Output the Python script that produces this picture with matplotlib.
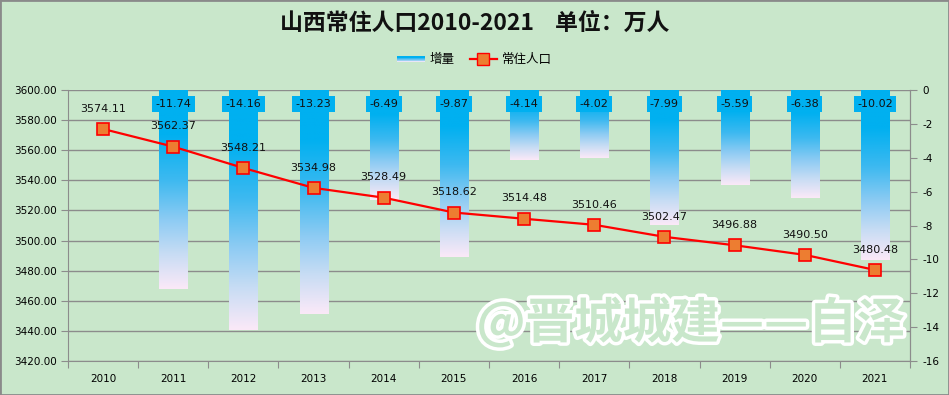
import numpy as np
import matplotlib
matplotlib.use("Agg")
import matplotlib.pyplot as plt
import matplotlib.patheffects as pe
from matplotlib.colors import LinearSegmentedColormap
from matplotlib.legend_handler import HandlerBase
from matplotlib.patches import Rectangle, Patch
from matplotlib.lines import Line2D

plt.rcParams['font.family'] = ['DejaVu Sans', 'Noto Sans CJK SC']

# data
years = ['2010', '2011', '2012', '2013', '2014', '2015',
         '2016', '2017', '2018', '2019', '2020', '2021']
population = [3574.11, 3562.37, 3548.21, 3534.98, 3528.49, 3518.62,
              3514.48, 3510.46, 3502.47, 3496.88, 3490.50, 3480.48]
incr_years = years[1:]
increment = [-11.74, -14.16, -13.23, -6.49, -9.87, -4.14,
             -4.02, -7.99, -5.59, -6.38, -10.02]
left_ticks = np.arange(3420, 3601, 20)
right_ticks = np.arange(-16, 1, 2)

bg = '#c9e7cb'
grid_c = '#8c8c8c'
bar_cmap = LinearSegmentedColormap.from_list(
    'bar', [(0.0, '#00b0f0'), (0.22, '#00b0f0'), (0.45, '#3db9f0'),
            (0.65, '#8ccbf3'), (0.82, '#c6dcf4'), (1.0, '#fbe9f8')])

fig = plt.figure(figsize=(9.49, 3.95), dpi=100)
fig.patch.set_facecolor(bg)
fig.patches.append(Rectangle((0, 0), 1, 1, transform=fig.transFigure,
                             fill=False, edgecolor='#8a8a8a', lw=2))

ax = fig.add_axes([68 / 949, 1 - 361 / 395, (910 - 68) / 949, (361 - 90) / 395])
ax.set_facecolor(bg)
axb = ax.twinx()
axl = ax.twinx()
ax.set_zorder(0)
axb.set_zorder(1)
axl.set_zorder(2)

x = np.arange(len(years))
xb = np.arange(1, len(years))

# left axis: grid + ticks
ax.set_xlim(-0.5, len(years) - 0.5)
ax.set_ylim(3420, 3600)
ax.set_yticks(left_ticks)
ax.set_yticklabels([f'{t:.2f}' for t in left_ticks])
ax.yaxis.grid(True, color=grid_c, lw=1)
ax.set_axisbelow(True)
ax.set_xticks(np.arange(-0.5, len(years), 1))
ax.set_xticklabels([])
ax.set_xticks(x, minor=True)
ax.set_xticklabels(years, minor=True)
ax.tick_params(axis='x', which='major', length=5, color=grid_c)
ax.tick_params(axis='x', which='minor', length=0, pad=9, labelsize=7.5)
ax.tick_params(axis='y', length=5, color=grid_c, labelsize=7.5, pad=3)
for s in ['left', 'bottom', 'right']:
    ax.spines[s].set_color(grid_c)
ax.spines['top'].set_visible(False)

# bars with vertical gradient
w = 0.4
grad = np.linspace(0, 1, 256).reshape(-1, 1)
for xi, v in zip(xb, increment):
    axb.imshow(grad, extent=[xi - w / 2, xi + w / 2, v, 0], aspect='auto',
               cmap=bar_cmap, origin='upper', zorder=2)
    axb.text(xi, -0.83, f'{v:.2f}', ha='center', va='center', fontsize=8,
             color='#111111', zorder=3,
             bbox=dict(boxstyle='square,pad=0.3', fc='#00b0f0', ec='none'))
axb.set_xlim(-0.5, len(years) - 0.5)
axb.set_ylim(-16, 0)
axb.set_yticks(right_ticks)
axb.set_yticklabels([str(t) for t in right_ticks])
axb.tick_params(axis='y', length=5, color=grid_c, labelsize=7.5, pad=4)
for s in ['left', 'bottom', 'top']:
    axb.spines[s].set_visible(False)
axb.spines['right'].set_color(grid_c)

# population line
axl.plot(x, population, color='#ff0000', lw=1.6, marker='s', markersize=8,
         markerfacecolor='#ed7d31', markeredgecolor='#ff0000', markeredgewidth=1.2)
for xi, p in zip(x, population):
    axl.annotate(f'{p:.2f}', (xi, p), xytext=(0, 11), textcoords='offset points',
                 ha='center', va='bottom', fontsize=8, color='#111111')
axl.set_xlim(-0.5, len(years) - 0.5)
axl.set_ylim(3420, 3600)
axl.yaxis.set_visible(False)
for s in axl.spines.values():
    s.set_visible(False)


# legend with gradient patch
class GradHandler(HandlerBase):
    def create_artists(self, legend, orig_handle, xdescent, ydescent,
                       width, height, fontsize, trans):
        n = 8
        arts = []
        for k in range(n):
            c = bar_cmap(1 - (k + 0.5) / n)
            r = Rectangle((-xdescent, -ydescent + height * 0.15 + height * 0.7 * k / n),
                          width, height * 0.7 / n + 0.2, fc=c, ec='none',
                          transform=trans)
            arts.append(r)
        return arts


h_bar = Patch(label='增量')
h_line = Line2D([], [], color='#ff0000', lw=1.6, marker='s', markersize=8,
                markerfacecolor='#ed7d31', markeredgecolor='#ff0000',
                label='常住人口')
fig.legend([h_bar, h_line], ['增量', '常住人口'], loc='center',
           bbox_to_anchor=(0.5, 1 - 60 / 395), ncol=2, frameon=False,
           handler_map={Patch: GradHandler()},
           prop={'family': 'Noto Sans CJK SC', 'size': 9},
           handlelength=2.2, columnspacing=1.2, handletextpad=0.4)

# title
fig.text(0.5, 1 - 23 / 395, '山西常住人口2010-2021    单位：万人',
         ha='center', va='center', fontsize=16.5, fontweight='bold',
         family='Noto Sans CJK SC', color='#111111')

# watermark
fig.text(691 / 949, 1 - 323 / 395, '@晋城城建——自泽', ha='center', va='center',
         fontsize=35, fontweight='bold', family='Noto Sans CJK SC', color=bg,
         zorder=10,
         path_effects=[pe.withSimplePatchShadow(offset=(1.5, -1.5),
                                                shadow_rgbFace='#777777', alpha=0.5),
                       pe.Stroke(linewidth=5, foreground='white'),
                       pe.Normal()])

fig.savefig('out.png', dpi=100, facecolor=bg)
